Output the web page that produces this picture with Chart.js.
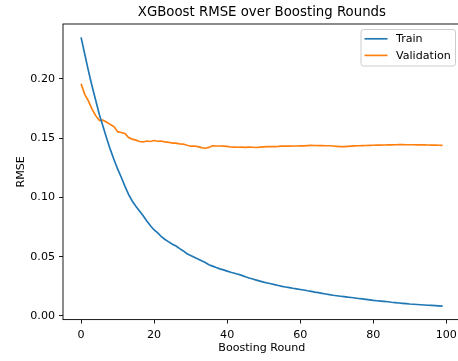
<!DOCTYPE html>
<html>
<head>
<meta charset="utf-8">
<script src="https://cdn.jsdelivr.net/npm/chart.js@4.4.1/dist/chart.umd.min.js"></script>
<style>
  html, body { margin: 0; padding: 0; overflow: hidden; background: #fff; }
  #wrap { position: absolute; left: 0; top: 0; width: 462px; height: 361px; }
</style>
</head>
<body>
<div id="wrap"><canvas id="c" width="462" height="361"></canvas></div>
<script>
const rounds = Array.from({length: 100}, (_, i) => i);

const trainRmse = [
  0.2350, 0.2210, 0.2070, 0.1940, 0.1820, 0.1700, 0.1600, 0.1500, 0.1405, 0.1320,
  0.1240, 0.1170, 0.1095, 0.1025, 0.0970, 0.0925, 0.0885, 0.0845, 0.0800, 0.0760,
  0.0725, 0.0700, 0.0668, 0.0645, 0.0625, 0.0605, 0.0590, 0.0568, 0.0548, 0.0525,
  0.0510, 0.0495, 0.0480, 0.0465, 0.0450, 0.0432, 0.0420, 0.0408, 0.0397, 0.0388,
  0.0378, 0.0368, 0.0360, 0.0351, 0.0342, 0.0330, 0.0320, 0.0311, 0.0302, 0.0293,
  0.0285, 0.0278, 0.0271, 0.0264, 0.0256, 0.0249, 0.0244, 0.0239, 0.0233, 0.0228,
  0.0223, 0.0218, 0.0212, 0.0207, 0.0201, 0.0196, 0.0190, 0.0185, 0.0179, 0.0174,
  0.0170, 0.0166, 0.0162, 0.0158, 0.0155, 0.0151, 0.0147, 0.0143, 0.0139, 0.0135,
  0.0131, 0.0128, 0.0125, 0.0122, 0.0119, 0.0115, 0.0112, 0.0109, 0.0106, 0.0103,
  0.0100, 0.0098, 0.0096, 0.0094, 0.0092, 0.0090, 0.0088, 0.0086, 0.0084, 0.0082
];

const validRmse = [
  0.1960, 0.1870, 0.1815, 0.1745, 0.1690, 0.1650, 0.1652, 0.1635, 0.1615, 0.1598,
  0.1555, 0.1548, 0.1540, 0.1505, 0.1492, 0.1483, 0.1472, 0.1468, 0.1476, 0.1472,
  0.1480, 0.1474, 0.1475, 0.1468, 0.1465, 0.1458, 0.1458, 0.1452, 0.1450, 0.1440,
  0.1432, 0.1434, 0.1428, 0.1420, 0.1415, 0.1422, 0.1436, 0.1434, 0.1434, 0.1432,
  0.1430, 0.1425, 0.1424, 0.1423, 0.1424, 0.1422, 0.1424, 0.1423, 0.1421, 0.1424,
  0.1427, 0.1428, 0.1428, 0.1429, 0.1430, 0.1432, 0.1433, 0.1433, 0.1434, 0.1434,
  0.1435, 0.1435, 0.1437, 0.1439, 0.1438, 0.1437, 0.1437, 0.1436, 0.1436, 0.1434,
  0.1431, 0.1428, 0.1429, 0.1431, 0.1433, 0.1435, 0.1436, 0.1437, 0.1438, 0.1439,
  0.1440, 0.1441, 0.1441, 0.1442, 0.1443, 0.1443, 0.1444, 0.1445, 0.1445, 0.1444,
  0.1444, 0.1444, 0.1443, 0.1443, 0.1443, 0.1442, 0.1441, 0.1441, 0.1440, 0.1439
];

const xTicks = [0, 20, 40, 60, 80, 100];
const yTicks = [0.00, 0.05, 0.10, 0.15, 0.20];
const seriesNames = ['Train', 'Validation'];
const titleText = 'XGBoost RMSE over Boosting Rounds';
const xLabel = 'Boosting Round';
const yLabel = 'RMSE';

const FONT = "'DejaVu Sans', sans-serif";
const FS = 11.1;

const frameAndText = {
  id: 'frameAndText',
  afterDatasetsDraw(chart) {
    const {ctx, chartArea: a} = chart;
    ctx.save();
    ctx.strokeStyle = '#000';
    ctx.lineWidth = 0.9;
    ctx.strokeRect(a.left, a.top, a.right - a.left, a.bottom - a.top);
    // title
    ctx.fillStyle = '#000';
    ctx.font = '13.3px ' + FONT;
    ctx.textAlign = 'center';
    ctx.textBaseline = 'middle';
    ctx.fillText(titleText, (a.left + a.right) / 2, 12.5);
    // legend
    const lx = 361, ly = 29.5, lw = 94.5, lh = 36.5, r = 2.5;
    ctx.beginPath();
    ctx.moveTo(lx + r, ly);
    ctx.lineTo(lx + lw - r, ly);
    ctx.arcTo(lx + lw, ly, lx + lw, ly + r, r);
    ctx.lineTo(lx + lw, ly + lh - r);
    ctx.arcTo(lx + lw, ly + lh, lx + lw - r, ly + lh, r);
    ctx.lineTo(lx + r, ly + lh);
    ctx.arcTo(lx, ly + lh, lx, ly + lh - r, r);
    ctx.lineTo(lx, ly + r);
    ctx.arcTo(lx, ly, lx + r, ly, r);
    ctx.closePath();
    ctx.fillStyle = 'rgba(255,255,255,0.8)';
    ctx.fill();
    ctx.strokeStyle = '#cccccc';
    ctx.lineWidth = 1;
    ctx.stroke();
    ctx.font = FS + 'px ' + FONT;
    ctx.textAlign = 'left';
    ctx.textBaseline = 'middle';
    chart.data.datasets.forEach((ds, i) => {
      const y = 38.8 + i * 16.6;
      ctx.strokeStyle = ds.borderColor;
      ctx.lineWidth = 1.67;
      ctx.beginPath();
      ctx.moveTo(364.5, y);
      ctx.lineTo(387.5, y);
      ctx.stroke();
      ctx.fillStyle = '#000';
      ctx.fillText(ds.label, 396, y + 0.5);
    });
    ctx.restore();
  }
};

new Chart(document.getElementById('c'), {
  type: 'line',
  data: {
    labels: rounds,
    datasets: [
      { label: seriesNames[0], data: rounds.map((r, i) => ({x: r, y: trainRmse[i]})),
        borderColor: '#1f77b4', borderWidth: 1.67, pointRadius: 0, tension: 0, fill: false },
      { label: seriesNames[1], data: rounds.map((r, i) => ({x: r, y: validRmse[i]})),
        borderColor: '#ff7f0e', borderWidth: 1.67, pointRadius: 0, tension: 0, fill: false }
    ]
  },
  options: {
    responsive: false,
    animation: false,
    devicePixelRatio: 1,
    layout: { padding: { top: 24, right: 1.3, left: 0, bottom: 0 } },
    plugins: { legend: { display: false }, title: { display: false }, tooltip: { enabled: false } },
    scales: {
      x: {
        type: 'linear',
        min: -4.95, max: 103.95,
        afterBuildTicks: s => { s.ticks = xTicks.map(v => ({value: v})); },
        afterFit: s => { s.height = 41.4; },
        grid: { drawOnChartArea: false, drawTicks: true, tickLength: 4, tickWidth: 0.9, tickColor: '#000' },
        border: { display: false },
        ticks: { color: '#000', padding: 5, font: { family: FONT, size: FS }, maxRotation: 0,
                 callback: v => String(v) },
        title: { display: true, text: xLabel, color: '#000', font: { family: FONT, size: FS },
                 padding: { top: 0, bottom: 6.5 } }
      },
      y: {
        type: 'linear',
        min: -0.00314, max: 0.24634,
        afterBuildTicks: s => { s.ticks = yTicks.map(v => ({value: v})); },
        afterFit: s => { s.width = 63; },
        grid: { drawOnChartArea: false, drawTicks: true, tickLength: 4, tickWidth: 0.9, tickColor: '#000' },
        border: { display: false },
        ticks: { color: '#000', padding: 4, font: { family: FONT, size: FS },
                 callback: v => Number(v).toFixed(2) },
        title: { display: true, text: yLabel, color: '#000', font: { family: FONT, size: FS },
                 padding: { top: 14, bottom: 0 } }
      }
    }
  },
  plugins: [frameAndText]
});
</script>
</body>
</html>
